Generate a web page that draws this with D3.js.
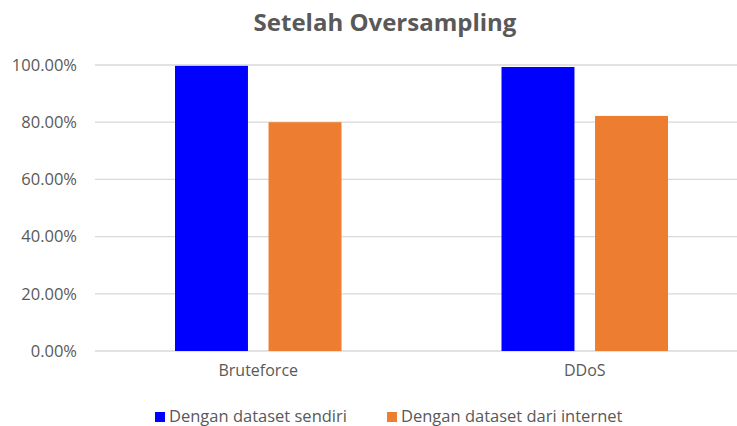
<!DOCTYPE html>
<html>
<head>
<meta charset="utf-8">
<script src="https://cdn.jsdelivr.net/npm/d3@7"></script>
<style>
  body { margin: 0; background: #fff; }
  text { font-family: "Open Sans", sans-serif; }
</style>
</head>
<body>
<div class="canvas"></div>
<script>
const svgWidth = 737;
const svgHeight = 426;

// data
const categories = ['Bruteforce', 'DDoS'];
const seriesNames = ['Dengan dataset sendiri', 'Dengan dataset dari internet'];
const sendiri = [0.997, 0.993];
const internet = [0.80, 0.822];
const yTicks = [0, 0.2, 0.4, 0.6, 0.8, 1.0];
const colors = ['#0000ff', '#ed7d31'];

const svg = d3.select('.canvas')
    .append('svg')
    .attr('width', svgWidth)
    .attr('height', svgHeight);

const margin = { top: 65, right: -11, bottom: 75, left: 95 };
const graphWidth = svgWidth - margin.left - margin.right;
const graphHeight = svgHeight - margin.top - margin.bottom;

const graph = svg.append('g')
    .attr('transform', `translate(${margin.left}, ${margin.top})`);

// title
svg.append('text')
    .attr('x', 385)
    .attr('y', 31)
    .attr('text-anchor', 'middle')
    .attr('font-size', 24)
    .attr('font-weight', 'bold')
    .attr('fill', '#595959')
    .text('Setelah Oversampling');

// scales
const y = d3.scaleLinear()
    .domain([0, 1])
    .range([graphHeight, 0]);

const x = d3.scaleBand()
    .domain(categories)
    .range([0, graphWidth]);

const x1 = d3.scaleBand()
    .domain(seriesNames)
    .range([80, x.bandwidth() - 80])
    .paddingInner(0.22);

// gridlines
graph.append('g')
    .selectAll('line')
    .data(yTicks)
    .enter()
    .append('line')
        .attr('x1', 0)
        .attr('x2', graphWidth)
        .attr('y1', d => y(d))
        .attr('y2', d => y(d))
        .attr('stroke', '#d9d9d9')
        .attr('stroke-width', 1.3);

// y axis
const yAxis = d3.axisLeft(y)
    .tickValues(yTicks)
    .tickSize(0)
    .tickPadding(18)
    .tickFormat(d => (d * 100).toFixed(2) + '%');

const yAxisGroup = graph.append('g').call(yAxis);
yAxisGroup.select('.domain').remove();
yAxisGroup.selectAll('text')
    .attr('font-size', 16.5)
    .attr('fill', '#595959')
    .style('font-family', '"Open Sans", sans-serif');

// bars
const rows = categories.map((c, i) => ({ cat: c, values: [sendiri[i], internet[i]] }));

const groups = graph.selectAll('g.cat')
    .data(rows)
    .enter()
    .append('g')
        .attr('class', 'cat')
        .attr('transform', d => `translate(${x(d.cat)}, 0)`);

groups.selectAll('rect')
    .data(d => d.values.map((v, i) => ({ name: seriesNames[i], v: v, color: colors[i] })))
    .enter()
    .append('rect')
        .attr('x', d => x1(d.name))
        .attr('width', x1.bandwidth())
        .attr('y', d => y(d.v))
        .attr('height', d => graphHeight - y(d.v))
        .attr('fill', d => d.color);

// x axis
const xAxis = d3.axisBottom(x).tickSize(0).tickPadding(14);
const xAxisGroup = graph.append('g')
    .attr('transform', `translate(0, ${graphHeight})`)
    .call(xAxis);
xAxisGroup.select('.domain').remove();
xAxisGroup.selectAll('text')
    .attr('font-size', 16)
    .attr('fill', '#595959')
    .style('font-family', '"Open Sans", sans-serif');

// legend
const legendX = [155, 387];
const legend = svg.selectAll('g.legend')
    .data(seriesNames)
    .enter()
    .append('g')
        .attr('class', 'legend')
        .attr('transform', (d, i) => `translate(${legendX[i]}, 412)`);

legend.append('rect')
    .attr('width', 10)
    .attr('height', 10)
    .attr('fill', (d, i) => colors[i]);

legend.append('text')
    .attr('x', 14)
    .attr('y', 10)
    .attr('font-size', 16.5)
    .attr('fill', '#595959')
    .text(d => d);
</script>
</body>
</html>
